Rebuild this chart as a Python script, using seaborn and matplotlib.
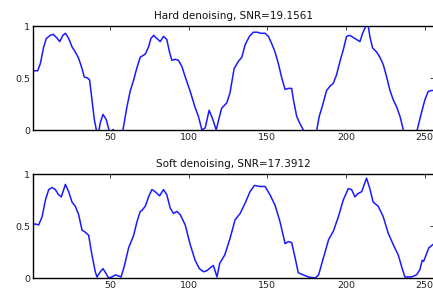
import matplotlib
matplotlib.use("Agg")
import matplotlib.pyplot as plt
import seaborn as sns

# =====================================================
# DATA
# =====================================================

hard_x = [1, 4, 5.7, 7.8, 9.5, 12, 13.8, 15.9, 18, 20, 21.6, 23.7, 25.8, 27.9,
          30, 32.2, 33.6, 35.7, 37, 38.5, 40, 41.3, 42.5, 43.8, 45.5, 47.6,
          49.3, 50.5, 52, 54, 56, 58.2, 60.7, 62.9, 65, 67.1, 69.2, 72.4, 74.5,
          76, 77.7, 79.8, 81.9, 84, 86.1, 87.8, 89.3, 91.4, 93.5, 95.7, 97.8,
          101, 104, 106.2, 108.4, 110.5, 113, 115.4, 117.5, 119.6, 121, 124.2,
          126.3, 128.9, 131.6, 133.8, 135.9, 138.6, 141.1, 143.7, 145.8, 148.6,
          150.7, 152.8, 154.9, 157, 159.2, 161.3, 163.4, 165.5, 166.6, 168.7,
          170.8, 172.9, 175, 178, 181, 183, 185.2, 187.7, 189.8, 192, 194,
          196.2, 198.3, 200.4, 202.5, 205.7, 208.9, 210.6, 212.7, 214, 215.2,
          216.9, 219.5, 221.6, 223.7, 225.9, 228, 230.1, 232.3, 234.4, 236.5,
          239, 242, 245.3, 247.4, 250.2, 252.3, 254.4, 256]
hard_y = [0.57, 0.57, 0.64, 0.80, 0.88, 0.91, 0.92, 0.89, 0.85, 0.91, 0.93,
          0.88, 0.80, 0.75, 0.69, 0.59, 0.51, 0.50, 0.48, 0.29, 0.10, 0.0,
          -0.04, 0.07, 0.15, 0.10, 0.0, -0.04, 0.005, -0.04, -0.05, 0.0, 0.22,
          0.38, 0.48, 0.60, 0.70, 0.73, 0.80, 0.88, 0.91, 0.88, 0.85, 0.90,
          0.87, 0.75, 0.67, 0.68, 0.67, 0.61, 0.51, 0.37, 0.22, 0.13, 0.0,
          0.02, 0.19, 0.10, 0.0, 0.13, 0.21, 0.26, 0.36, 0.59, 0.66, 0.70,
          0.82, 0.90, 0.94, 0.94, 0.93, 0.93, 0.90, 0.83, 0.75, 0.64, 0.50,
          0.39, 0.40, 0.40, 0.29, 0.13, 0.06, 0.0, -0.05, -0.06, -0.04, 0.13,
          0.24, 0.38, 0.42, 0.45, 0.53, 0.66, 0.77, 0.90, 0.91, 0.88, 0.85,
          0.93, 1.0, 1.02, 0.90, 0.79, 0.75, 0.70, 0.63, 0.51, 0.38, 0.29,
          0.22, 0.13, 0.0, -0.05, -0.06, 0.0, 0.13, 0.29, 0.37, 0.38, 0.38]

soft_x = [1, 2.2, 4.6, 6.8, 8.9, 11, 13.1, 15.2, 17.3, 19, 21.6, 23.7, 25.8,
          27.9, 30, 32.2, 34.3, 36.4, 38.5, 40.6, 41.7, 43.8, 45.5, 47.6, 49,
          51.2, 53.3, 55.4, 57, 59, 61.8, 65, 67.1, 69.2, 70.3, 72.4, 74.5,
          76.6, 78.7, 81.5, 84, 86.1, 88.3, 90.4, 92.5, 94.6, 97.8, 101, 104.1,
          106.8, 109.4, 111.5, 114.7, 115.7, 118, 119.7, 122.9, 126.3, 129.5,
          132.7, 135.9, 139, 141.8, 145.4, 148.6, 151.7, 154.9, 158.1, 161.3,
          163.4, 165.5, 167.6, 169.7, 172.9, 176.1, 180.5, 182.6, 185.6, 189,
          192, 195.2, 198.3, 201.5, 203.6, 205.7, 207.5, 210, 213.1, 215.2,
          217.3, 220.5, 223.7, 226.9, 230.1, 233.3, 235.8, 237.5, 241.7, 244.9,
          247, 248.5, 249.4, 252.7, 256]
soft_y = [0.51, 0.52, 0.51, 0.59, 0.75, 0.85, 0.87, 0.85, 0.80, 0.78, 0.90,
          0.83, 0.73, 0.69, 0.61, 0.46, 0.44, 0.41, 0.22, 0.06, 0.01, 0.06,
          0.09, 0.04, 0.0, 0.01, 0.03, 0.02, 0.01, 0.11, 0.29, 0.41, 0.54,
          0.64, 0.65, 0.69, 0.78, 0.85, 0.83, 0.79, 0.85, 0.80, 0.67, 0.62,
          0.64, 0.61, 0.51, 0.32, 0.17, 0.09, 0.06, 0.07, 0.11, 0.12, 0.01,
          0.14, 0.22, 0.38, 0.56, 0.62, 0.72, 0.83, 0.89, 0.88, 0.88, 0.80,
          0.70, 0.54, 0.33, 0.35, 0.34, 0.20, 0.05, 0.03, 0.01, 0.0, 0.03,
          0.19, 0.37, 0.45, 0.59, 0.75, 0.86, 0.85, 0.78, 0.81, 0.83, 0.96,
          0.86, 0.73, 0.69, 0.59, 0.43, 0.32, 0.22, 0.09, 0.01, 0.01, 0.03,
          0.08, 0.17, 0.16, 0.29, 0.33]

titles = ["Hard denoising, SNR=19.1561", "Soft denoising, SNR=17.3912"]
x_ticks = [50, 100, 150, 200, 250]
y_ticks = [0, 0.5, 1]
y_tick_labels = ["0", "0.5", "1"]

# =====================================================
# STYLE
# =====================================================

sns.set_style("white")
plt.rcParams["font.family"] = ["DejaVu Sans"]

fig = plt.figure(figsize=(4.33, 2.91), dpi=100)

# axes placed like the (cropped) MATLAB figure: right spine at the image edge
ax_top = fig.add_axes([33 / 433, 161 / 291, 401 / 433, 104 / 291])
ax_bot = fig.add_axes([33 / 433, 13 / 291, 401 / 433, 104 / 291])

# =====================================================
# PLOT
# =====================================================

for ax, xs, ys, title in [
    (ax_top, hard_x, hard_y, titles[0]),
    (ax_bot, soft_x, soft_y, titles[1]),
]:
    sns.lineplot(x=xs, y=ys, ax=ax, color="#1a1aff", linewidth=1.1, sort=False)

    ax.set_xlim(1, 256)
    ax.set_ylim(0, 1)
    ax.set_xticks(x_ticks)
    ax.set_yticks(y_ticks)
    ax.set_yticklabels(y_tick_labels)

    ax.tick_params(
        direction="in",
        top=True,
        right=True,
        length=3,
        width=0.6,
        labelsize=6.8,
        pad=2,
        colors="#222222"
    )

    for spine in ax.spines.values():
        spine.set_color("black")
        spine.set_linewidth(1.0)

    ax.set_title(title, fontsize=7.5, pad=5, color="#111111")

fig.savefig("out.png", dpi=100)
